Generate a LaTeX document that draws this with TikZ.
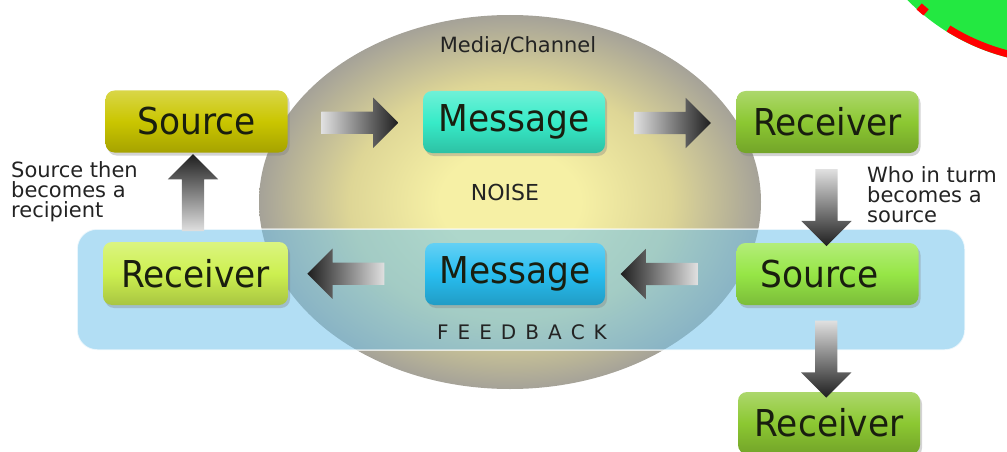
\documentclass[tikz,border=0pt]{standalone}
\usepackage{fontspec}
\setmainfont{DejaVu Sans}
\newfontfamily\boxfont[FakeStretch=0.93]{DejaVu Sans}
\usetikzlibrary{shapes.arrows,shadows,calc}
\definecolor{glowc}{RGB}{246,240,165}
\definecolor{midc}{RGB}{222,214,150}
\definecolor{edgec}{RGB}{165,162,152}
\definecolor{bandc}{RGB}{115,195,235}
\definecolor{txtc}{RGB}{25,30,15}
\definecolor{labc}{RGB}{35,35,35}
\definecolor{srcA}{RGB}{202,198,0}
\definecolor{msgA}{RGB}{55,235,200}
\definecolor{rcvA}{RGB}{140,200,50}
\definecolor{rcvB}{RGB}{205,240,80}
\definecolor{msgB}{RGB}{40,190,240}
\definecolor{srcB}{RGB}{150,230,70}
\definecolor{greenc}{RGB}{35,232,65}
\pgfdeclareradialshading{noiseglow}{\pgfpoint{0bp}{0bp}}{color(0bp)=(glowc); color(7bp)=(glowc); color(16bp)=(midc); color(25bp)=(edgec); color(50bp)=(edgec)}
\tikzset{
  boxbase/.style={rounded corners=9pt, inner sep=0pt, minimum width=182pt, minimum height=62pt,
    font=\boxfont\fontsize{37}{37}\selectfont, text=txtc,
    drop shadow={shadow xshift=2pt, shadow yshift=-3pt, opacity=0.35}},
  colbox/.style={boxbase, top color=#1!72!white, bottom color=#1!82!black, middle color=#1},
  fatarrow/.style={single arrow, single arrow head extend=14pt, single arrow tip angle=90,
    minimum height=77pt, inner sep=0pt},
  rightarr/.style={fatarrow, shape border rotate=0, left color=black!12, middle color=black!72, right color=black!88},
  leftarr/.style={fatarrow, shape border rotate=180, left color=black!88, middle color=black!72, right color=black!12},
  uparr/.style={fatarrow, shape border rotate=90, top color=black!88, middle color=black!72, bottom color=black!12},
  downarr/.style={fatarrow, shape border rotate=270, top color=black!12, middle color=black!72, bottom color=black!88},
  sidetext/.style={font=\fontsize{21}{20}\selectfont, text=labc, align=left, inner sep=0pt, anchor=north west},
  midtext/.style={font=\fontsize{21}{21}\selectfont, text=labc, inner sep=0pt},
}
\newcommand{\shaftbox}{\phantom{\rule{22pt}{22pt}}}
\begin{document}
\begin{tikzpicture}[x=1pt,y=-1pt]
\useasboundingbox (0,0) rectangle (1007,452);
\begin{scope}
\clip (0,0) rectangle (1007,452);
% media / channel ellipse
\shade[shading=noiseglow] (510,202) ellipse [x radius=251, y radius=187];
% feedback band
\fill[bandc, opacity=0.55, rounded corners=20pt] (77,229) rectangle (965,350);
\draw[white, opacity=0.7, line width=1.5pt, rounded corners=20pt] (77,229) rectangle (965,350);
% green disc in the corner
\coordinate (gc) at (1060,-150);
\fill[greenc] (gc) circle [radius=214];
\draw[red, line width=7pt] ($(gc)+(95:210.5)$) arc [start angle=95, end angle=122, radius=210.5];
\draw[red, line width=8pt] ($(gc)+(129.5:210.5)$) arc [start angle=129.5, end angle=132, radius=210.5];

% boxes
\node[colbox=srcA] (S1) at (196.5,121.5) {Source};
\node[colbox=msgA] (M1) at (514,122) {Message};
\node[colbox=rcvA] (R1) at (827.5,122) {Receiver};
\node[colbox=rcvB, minimum width=185pt, minimum height=63pt] (R2) at (195.5,273.5) {Receiver};
\node[colbox=msgB, minimum width=180pt] (M2) at (515,274) {Message};
\node[colbox=srcB] (S2) at (827.5,274) {Source\hspace*{16pt}};
\node[colbox=rcvA] (R3) at (829,423) {Receiver};

% arrows
\node[rightarr] (a1) at ($(S1.east)!0.5!(M1.west)+(-1,1)$) {\shaftbox};
\node[rightarr] (a2) at ($(M1.east)!0.5!(R1.west)+(-4,1)$) {\shaftbox};
\node[downarr] (a3) at ($(R1.south)!0.5!(S2.north)+(-1,4)$) {\shaftbox};
\node[leftarr] (a4) at ($(S2.west)!0.5!(M2.east)+(-6,0)$) {\shaftbox};
\node[leftarr] (a5) at ($(M2.west)!0.5!(R2.east)+(-5,0)$) {\shaftbox};
\node[uparr] (a6) at ($(R2.north)!0.5!(S1.south)+(-3,1)$) {\shaftbox};
\node[downarr] (a7) at ($(S2.south)!0.5!(R3.north)+(-2,5)$) {\shaftbox};

% labels
\node[midtext] (media) at (518,45) {Media/Channel};
\node[midtext, font=\fontsize{22}{22}\selectfont] (noise) at (505,192) {NOISE};
\node[midtext, font=\fontsize{20}{20}\selectfont] (feed) at (522,332)
  {F\kern9pt E\kern9pt E\kern9pt D\kern9pt B\kern9pt A\kern9pt C\kern9pt K};
\node[sidetext] (lt) at (11,161) {Source then\\becomes a\\recipient};
\node[sidetext] (rt) at (867,166) {Who in turm\\becomes a\\source};
\end{scope}
\end{tikzpicture}
\end{document}
